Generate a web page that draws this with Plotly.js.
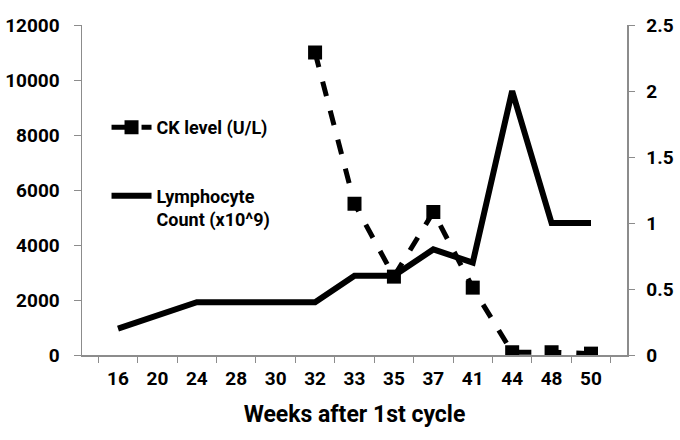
<!DOCTYPE html>
<html>
<head>
<meta charset="utf-8">
<script src="https://cdn.plot.ly/plotly-3.0.1.min.js"></script>
<style>html,body{margin:0;padding:0;background:#fff;}#chart{width:680px;height:440px;}</style>
</head>
<body>
<div id="chart"></div>
<script>
var weeks = ["16","20","24","28","30","32","33","35","37","41","44","48","50"];
var ckLevel = [null,null,null,null,null,11000,5500,2850,5200,2450,100,100,50];
var lymphocyte = [0.2,0.3,0.4,0.4,0.4,0.4,0.6,0.6,0.8,0.7,2.0,1.0,1.0];

var fontFam = "Roboto, 'Open Sans', sans-serif";
var axisGray = "#8c8c8c";

var traces = [
  {
    x: weeks, y: lymphocyte, yaxis: "y2", type: "scatter", mode: "lines",
    name: "Lymphocyte<br>Count (x10^9)",
    line: {color: "#000", width: 6},
    legendrank: 2, legendgroup: "b"
  },
  {
    x: weeks, y: ckLevel, type: "scatter", mode: "lines+markers",
    name: "CK level (U/L)",
    line: {color: "#000", width: 5, dash: "dash"},
    marker: {symbol: "square", size: 14, color: "#000"},
    connectgaps: false,
    legendrank: 1, legendgroup: "a"
  }
];

var layout = {
  width: 680, height: 440,
  margin: {l: 82, r: 53, t: 25, b: 85},
  paper_bgcolor: "#fff", plot_bgcolor: "#fff",
  font: {family: fontFam, color: "#000"},
  showlegend: true,
  legend: {
    x: 0.045, y: 0.745, xanchor: "left", yanchor: "top",
    bgcolor: "rgba(0,0,0,0)",
    font: {family: fontFam, size: 18, weight: 700, color: "#000"},
    traceorder: "grouped", tracegroupgap: 42, itemwidth: 40, valign: "top"
  },
  xaxis: {
    type: "category", categoryorder: "array", categoryarray: weeks,
    showline: true, linecolor: axisGray, linewidth: 1.5,
    ticks: "outside", tickson: "boundaries", ticklen: 6, tickcolor: axisGray,
    ticklabelstandoff: 6,
    tickfont: {family: fontFam, size: 19, weight: 700, color: "#000"},
    showgrid: false, zeroline: false,
    title: {text: "Weeks after 1st cycle", font: {family: fontFam, size: 23, weight: 700, color: "#000"}, standoff: 16}
  },
  yaxis: {
    range: [0, 12000], dtick: 2000, tick0: 0, tickformat: "d",
    showline: true, linecolor: axisGray, linewidth: 1.5,
    ticks: "outside", ticklen: 7, tickcolor: axisGray,
    ticklabelstandoff: 10,
    tickfont: {family: fontFam, size: 19, weight: 700, color: "#000"},
    showgrid: false, zeroline: false
  },
  yaxis2: {
    overlaying: "y", side: "right",
    range: [0, 2.5], dtick: 0.5, tick0: 0,
    showline: true, linecolor: axisGray, linewidth: 1.5,
    ticks: "outside", ticklen: 6, tickcolor: axisGray,
    ticklabelstandoff: 8,
    tickfont: {family: fontFam, size: 19, weight: 700, color: "#000"},
    showgrid: false, zeroline: false
  }
};

Plotly.newPlot("chart", traces, layout, {displayModeBar: false, staticPlot: true});
</script>
</body>
</html>
